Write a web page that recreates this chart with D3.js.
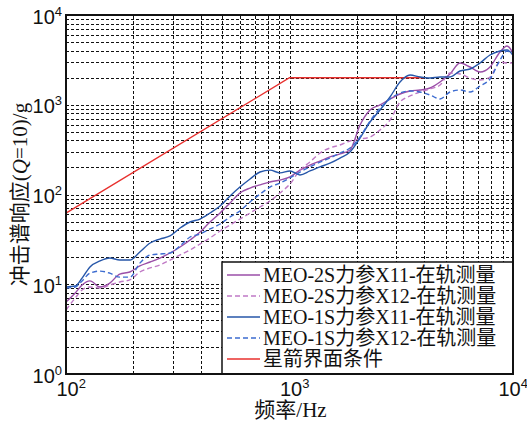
<!DOCTYPE html>
<html>
<head>
<meta charset="utf-8">
<script src="https://cdn.jsdelivr.net/npm/d3@7"></script>
<style>
  body { margin: 0; background: #fff; }
</style>
</head>
<body>
<div id="chart"></div>
<script>
// frequency grid (Hz), shared by the four measured curves
var freq = [100,110,118,128,142,157,174,193,214,238,263,292,324,359,398,441,489,542,600,666,
            738,818,907,1005,1114,1235,1369,1518,1683,1865,2068,2292,2541,2817,3122,3461,3837,
            4253,4715,5226,5793,6422,7118,7890,8746,9402,10000];

// shock response spectra (g)
var meo2sX11 = [6.34,7.99,9.81,10.9,9.32,10.3,13.0,13.7,16.0,17.7,19.6,22.3,26.0,31.1,38.2,49.4,62.2,80.4,104,118,
                128,138,145,157,187,213,236,262,283,313,595,874,994,1159,1318,1423,1460,
                1537,1793,2201,2919,2634,2317,2634,3871,4514,3773];
var meo2sX12 = [5.17,7.03,8.63,9.32,9.08,9.81,10.6,11.2,13.7,15.2,16.4,18.6,21.2,24.1,28.1,32.8,39.2,45.7,53.3,62.2,
                72.6,84.7,104,131,187,230,290,330,356,395,415,437,523,676,1073,1252,1387,
                1498,1660,2258,2201,1986,1887,2038,2995,2919,2919];
var meo1sX11 = [9.32,9.56,11.7,15.6,18.2,19.6,18.6,18.6,22.9,28.8,31.9,34.5,42.3,49.4,53.3,62.2,74.5,96.2,121,149,
                178,187,174,183,165,183,203,224,255,297,426,642,874,1220,1793,2145,2038,
                1986,2038,2038,2377,2502,2919,3584,3972,4074,3584];
var meo1sX12 = [9.08,9.32,10.9,13.3,14.0,13.3,12.0,12.0,17.2,21.2,21.7,22.3,26.7,33.6,36.3,41.3,46.9,56.2,65.5,82.5,
                101,121,134,153,178,203,230,255,290,330,437,659,920,1159,1352,1423,1387,
                1284,1159,1387,1460,1387,1618,1936,3152,3972,3584];

// interface condition (red)
var specFreq = [100, 1000, 4000];
var specAmp = [62, 2000, 2000];

var seriesNames = ["MEO-2S力参X11-在轨测量", "MEO-2S力参X12-在轨测量",
                   "MEO-1S力参X11-在轨测量", "MEO-1S力参X12-在轨测量", "星箭界面条件"];
var xDecades = [100, 1000, 10000];
var yDecades = [1, 10, 100, 1000, 10000];

var W = 527, H = 422;
var pLeft = 66, pRight = 513, pTop = 15, pBottom = 374;
var FONT = "'Liberation Serif', 'Times New Roman', 'Noto Sans CJK SC', serif";

var svg = d3.select("#chart").append("svg").attr("width", W).attr("height", H)
  .style("font-family", FONT);

var x = d3.scaleLog().domain([100, 10000]).range([pLeft, pRight]);
var y = d3.scaleLog().domain([1, 10000]).range([pBottom, pTop]);

// dashed grid at every log tick
var gx = svg.append("g").attr("transform", "translate(0," + pBottom + ")")
  .call(d3.axisBottom(x).ticks(20).tickSize(-(pBottom - pTop)).tickFormat(""));
var gy = svg.append("g").attr("transform", "translate(" + pLeft + ",0)")
  .call(d3.axisLeft(y).ticks(40).tickSize(-(pRight - pLeft)).tickFormat(""));
[gx, gy].forEach(function(g) {
  g.select(".domain").remove();
  g.selectAll(".tick line").attr("stroke", "#111").attr("stroke-width", 1)
    .attr("stroke-dasharray", "3,2").attr("shape-rendering", "crispEdges");
});

// red spec line first, curves over it
var specLine = d3.line().x(function(d) { return x(d[0]); }).y(function(d) { return y(d[1]); });
svg.append("path")
  .datum(d3.zip(specFreq, specAmp))
  .attr("d", specLine)
  .attr("fill", "none").attr("stroke", "#e8302e").attr("stroke-width", 1.4);

var curves = [
  { vals: meo2sX11, color: "#9b4fa8", dash: null },
  { vals: meo2sX12, color: "#c07ac6", dash: "5,3" },
  { vals: meo1sX11, color: "#2656a8", dash: null },
  { vals: meo1sX12, color: "#3d6cd0", dash: "5,3" }
];

var curveLine = d3.line().curve(d3.curveMonotoneX)
  .x(function(d) { return x(d[0]); }).y(function(d) { return y(d[1]); });

curves.forEach(function(c) {
  svg.append("path")
    .datum(d3.zip(freq, c.vals))
    .attr("d", curveLine)
    .attr("fill", "none")
    .attr("stroke", c.color)
    .attr("stroke-width", 1.4)
    .attr("stroke-dasharray", c.dash);
});

// legend
var lg = svg.append("g");
lg.append("rect").attr("x", 222).attr("y", 262).attr("width", pRight - 222).attr("height", pBottom - 262)
  .attr("fill", "#fff").attr("stroke", "#111").attr("stroke-width", 1.5);
var legendItems = curves.concat([{ color: "#e8302e", dash: null }]);
legendItems.forEach(function(c, i) {
  var cy = 275 + i * 21;
  lg.append("line").attr("x1", 227).attr("x2", 260).attr("y1", cy).attr("y2", cy)
    .attr("stroke", c.color).attr("stroke-width", 1.6).attr("stroke-dasharray", c.dash);
  lg.append("text").attr("x", 263).attr("y", cy + 7).attr("font-size", 20).attr("fill", "#111")
    .text(seriesNames[i]);
});

// frame
svg.append("rect").attr("x", pLeft).attr("y", pTop).attr("width", pRight - pLeft).attr("height", pBottom - pTop)
  .attr("fill", "none").attr("stroke", "#111").attr("stroke-width", 2);

// decade labels 10^n
function power(sel, v) {
  var n = Math.round(Math.log10(v));
  sel.append("tspan").text("10");
  sel.append("tspan").attr("dy", -8).attr("font-size", 13).text(n);
}

var ax = svg.append("g").attr("transform", "translate(0," + pBottom + ")")
  .call(d3.axisBottom(x).tickValues(xDecades).tickSize(0).tickFormat(""));
ax.select(".domain").remove();
ax.selectAll(".tick").each(function(d) {
  // last label is pulled in so it stays inside the picture
  var dx = (d === 10000) ? -15 : -10;
  var t = d3.select(this).append("text").attr("x", dx).attr("y", 22)
    .attr("text-anchor", "start").attr("font-size", 20).attr("fill", "#111");
  power(t, d);
});

var ay = svg.append("g").attr("transform", "translate(" + pLeft + ",0)")
  .call(d3.axisLeft(y).tickValues(yDecades).tickSize(0).tickFormat(""));
ay.select(".domain").remove();
ay.selectAll(".tick").each(function(d) {
  var t = d3.select(this).append("text").attr("x", -4).attr("y", 8)
    .attr("text-anchor", "end").attr("font-size", 20).attr("fill", "#111");
  power(t, d);
});

// axis titles
svg.append("text").attr("x", (pLeft + pRight) / 2 + 1).attr("y", 417)
  .attr("text-anchor", "middle").attr("font-size", 21).attr("fill", "#111").text("频率/Hz");

var yt = svg.append("text")
  .attr("transform", "translate(27," + ((pTop + pBottom) / 2) + ") rotate(-90)")
  .attr("text-anchor", "middle").attr("font-size", 21).attr("fill", "#111");
yt.append("tspan").text("冲击谱响应(");
yt.append("tspan").attr("font-style", "italic").text("Q");
yt.append("tspan").text("=10)/g");
</script>
</body>
</html>
